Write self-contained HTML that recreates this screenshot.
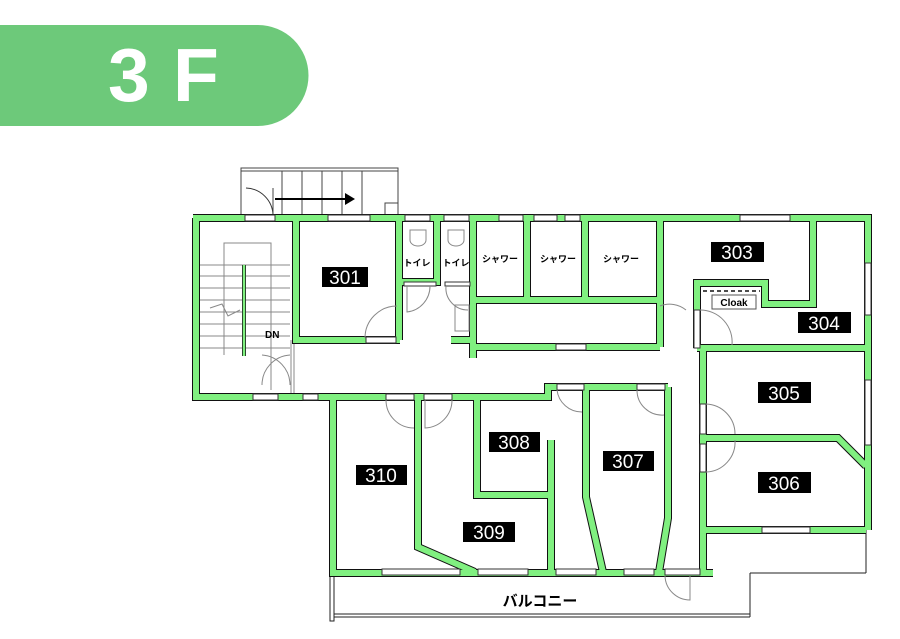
<!DOCTYPE html>
<html><head><meta charset="utf-8"><style>
html,body{margin:0;padding:0;background:#fff;width:900px;height:639px;overflow:hidden}
svg{display:block}
</style></head><body>
<svg width="900" height="639" viewBox="0 0 900 639" xmlns="http://www.w3.org/2000/svg" font-family="Liberation Sans, Noto Sans CJK JP, sans-serif">
<path d="M0 25 H258 A50.5 50.5 0 0 1 258 126 H0 Z" fill="#6dc97a"/>
<text x="108" y="101" font-size="75" font-weight="bold" fill="#fff">3</text>
<text x="173" y="101" font-size="75" font-weight="bold" fill="#fff">F</text>

<g fill="none" stroke="#444" stroke-width="1">
<rect x="241" y="168" width="157" height="50"/>
<line x1="241" y1="171" x2="398" y2="171"/>
<line x1="282" y1="171" x2="282" y2="218"/><line x1="302" y1="171" x2="302" y2="218"/>
<line x1="322" y1="171" x2="322" y2="218"/><line x1="342" y1="171" x2="342" y2="218"/>
<line x1="362" y1="171" x2="362" y2="218"/>
<rect x="385" y="203" width="13" height="15"/>
<path d="M246 188 A28 28 0 0 1 273 215" stroke="#333"/>
<line x1="273" y1="188" x2="273" y2="218"/>
</g>
<line x1="275" y1="199" x2="348" y2="199" stroke="#000" stroke-width="2"/>
<path d="M345 193 L355 199 L345 205 Z" fill="#000"/>

<g fill="none" stroke="#222" stroke-width="1">
<rect x="330" y="575" width="4" height="46"/>
<line x1="334" y1="614" x2="750" y2="614"/>
<line x1="334" y1="617" x2="750" y2="617"/>
<line x1="750" y1="573" x2="750" y2="617"/>
<line x1="750" y1="573" x2="866" y2="573"/>
<line x1="866" y1="530" x2="866" y2="573"/>
</g>
<text x="540" y="606" font-size="15" font-weight="bold" text-anchor="middle" fill="#000">バルコニー</text>

<g stroke="#888" stroke-width="1" fill="none">
<path d="M224 355 V243 H271 V390"/>
<line x1="200" y1="265" x2="290" y2="265"/><line x1="200" y1="276" x2="290" y2="276"/>
<line x1="200" y1="288" x2="290" y2="288"/><line x1="200" y1="300" x2="290" y2="300"/>
<line x1="200" y1="312" x2="290" y2="312"/><line x1="200" y1="324" x2="290" y2="324"/>
<line x1="200" y1="336" x2="290" y2="336"/><line x1="200" y1="348" x2="290" y2="348"/>
<path d="M210 308 L222 304 L228 316 L240 310"/>
<path d="M262 355 A30 30 0 0 1 290 385"/>
<path d="M290 355 A30 30 0 0 0 262 385"/>
<line x1="291" y1="340" x2="291" y2="397"/><line x1="294" y1="340" x2="294" y2="397"/>
</g>
<line x1="244" y1="265" x2="244" y2="356" stroke="#111" stroke-width="4"/>
<line x1="244" y1="265" x2="244" y2="356" stroke="#80f080" stroke-width="2.5"/>
<text x="265" y="338" font-size="10" font-weight="bold">DN</text>

<defs>
<path id="w" d="
M193 218 H868 V530
M196 218 V397 H333
M333 397 V573 H713
M703 348 V573
M703 530 H866
M296 218 V340 H400
M399 218 V340
M437 218 V282 H400
M473 218 V358
M473 300 H660
M527 218 V300
M585 218 V300
M473 347 H660
M660 218 V347
M813 218 V304 H765 V283 H697 V348
M697 348 H866
M703 438 H838 L866 466
M333 397 H548 V387 H668
M586 390 V497 L603 572
M668 387 V518 L659 572
M418 397 V547 L475 572
M477 397 V495 H551
M551 440 V572
M451 340 H473
"/>
</defs>
<use href="#w" fill="none" stroke="#111" stroke-width="8" stroke-linejoin="miter"/>
<use href="#w" fill="none" stroke="#80f080" stroke-width="6" stroke-linejoin="miter"/>

<g fill="#fff" stroke="#333" stroke-width="1">
<rect x="245" y="215" width="30" height="6"/>
<rect x="328" y="215" width="42" height="6"/>
<rect x="405" y="215" width="25" height="6"/>
<rect x="444" y="215" width="25" height="6"/>
<rect x="499" y="215" width="24" height="6"/>
<rect x="534" y="215" width="23" height="6"/>
<rect x="565" y="215" width="15" height="6"/>
<rect x="740" y="215" width="50" height="6"/>
<rect x="865" y="263" width="6" height="52"/>
<rect x="865" y="380" width="6" height="65"/>
<rect x="253" y="394" width="25" height="6"/>
<rect x="303" y="394" width="15" height="6"/>
<rect x="386" y="394" width="28" height="6"/>
<rect x="424" y="394" width="28" height="6"/>
<rect x="366" y="337" width="30" height="6"/>
<rect x="556" y="344" width="30" height="6"/>
<rect x="557" y="384" width="27" height="6"/>
<rect x="637" y="384" width="28" height="6"/>
<rect x="762" y="527" width="48" height="6"/>
<rect x="382" y="569" width="78" height="6"/>
<rect x="478" y="569" width="50" height="6"/>
<rect x="556" y="569" width="40" height="6"/>
<rect x="624" y="569" width="30" height="6"/>
<rect x="665" y="569" width="35" height="6"/>
<rect x="700" y="404" width="6" height="30"/>
<rect x="700" y="444" width="6" height="28"/>
<rect x="694" y="310" width="6" height="38"/>
<rect x="404" y="282" width="32" height="4"/>
<rect x="445" y="282" width="25" height="4"/>
</g>
<g fill="none" stroke="#888" stroke-width="1">
<path d="M365 338 A32 32 0 0 1 397 306"/>
<path d="M407 286 V312 A26 26 0 0 0 430 286"/>
<path d="M446 286 A22 22 0 0 0 468 310"/>
<path d="M660 306 A26 26 0 0 1 686 310"/>
<path d="M700 310 A32 32 0 0 1 732 345"/>
<path d="M386 400 A28 28 0 0 0 414 428"/>
<path d="M425 400 V428 A28 28 0 0 0 452 400"/>
<path d="M557 390 A25 25 0 0 0 582 412"/>
<path d="M637 390 A25 25 0 0 0 664 415"/>
<path d="M706 404 A30 30 0 0 1 735 434"/>
<path d="M735 440 A30 30 0 0 1 706 472"/>
<path d="M665 576 A25 25 0 0 0 690 600 V576"/>
<rect x="455" y="305" width="14" height="26"/>
<path d="M410 240 a8 6 0 0 0 16 0 v-10 h-16 z"/>
<path d="M448 240 a8 6 0 0 0 16 0 v-10 h-16 z"/>
</g>
<line x1="703" y1="291" x2="760" y2="291" stroke="#111" stroke-width="1.5" stroke-dasharray="4 3"/>
<rect x="712" y="295" width="44" height="14" fill="#fff" stroke="#555"/>
<text x="734" y="306" font-size="10" font-weight="bold" text-anchor="middle">Cloak</text>

<g font-size="9" font-weight="bold" text-anchor="middle" fill="#000">
<text x="417" y="266">トイレ</text><text x="456" y="266">トイレ</text>
<text x="500" y="262">シャワー</text><text x="558" y="262">シャワー</text><text x="621" y="262">シャワー</text>
</g>

<g font-size="19" fill="#fff" text-anchor="middle">
<rect x="322" y="267" width="46" height="20" fill="#000"/><text x="345" y="284">301</text>
<rect x="711" y="242" width="53" height="20" fill="#000"/><text x="737" y="259">303</text>
<rect x="798" y="312" width="53" height="21" fill="#000"/><text x="824" y="330">304</text>
<rect x="758" y="382" width="53" height="21" fill="#000"/><text x="784" y="400">305</text>
<rect x="758" y="472" width="53" height="21" fill="#000"/><text x="784" y="490">306</text>
<rect x="603" y="451" width="51" height="20" fill="#000"/><text x="628" y="468">307</text>
<rect x="489" y="432" width="51" height="20" fill="#000"/><text x="514" y="449">308</text>
<rect x="463" y="522" width="52" height="20" fill="#000"/><text x="489" y="539">309</text>
<rect x="356" y="465" width="51" height="20" fill="#000"/><text x="381" y="482">310</text>
</g>
</svg>
</body></html>
